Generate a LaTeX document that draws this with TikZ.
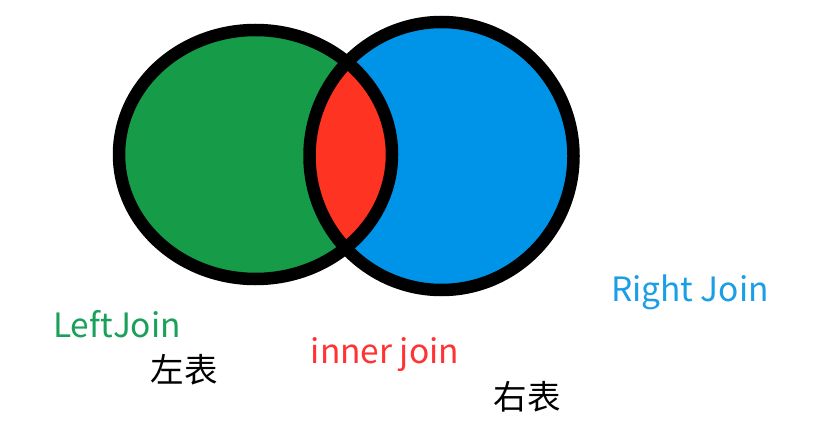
\documentclass[tikz,border=0pt]{standalone}
\usepackage{fontspec}
\setmainfont{Noto Sans CJK SC}
\definecolor{lgreen}{HTML}{169B48}
\definecolor{rblue}{HTML}{0094E8}
\definecolor{ired}{HTML}{FF3322}
\definecolor{tgreen}{HTML}{1AA05A}
\definecolor{tblue}{HTML}{1A9EE6}
\definecolor{tred}{HTML}{FF3333}
\tikzset{
  ring/.style={draw=black, line width=12.5pt},
  lbl/.style={inner sep=0pt, font=\fontsize{33.5}{36}\selectfont},
}
\begin{document}
\begin{tikzpicture}[x=1pt,y=-1pt]
\useasboundingbox (0,0) rectangle (816,441);
\fill[white] (0,0) rectangle (816,441);
\coordinate (lc) at (255.5,154.5);
\coordinate (rc) at (441.5,156);
\fill[lgreen] (lc) ellipse [x radius=136.5, y radius=124.5];
\fill[rblue] (rc) ellipse [x radius=132, y radius=134];
\begin{scope}
  \clip (lc) ellipse [x radius=136.5, y radius=124.5];
  \fill[ired] (rc) ellipse [x radius=132, y radius=134];
\end{scope}
\draw[ring] (lc) ellipse [x radius=136.5, y radius=124.5];
\draw[ring] (rc) ellipse [x radius=132, y radius=134];
\node[lbl, text=tgreen] (lj) at (117,324) {LeftJoin};
\node[lbl, text=black] (lt) at (184,370) {左表};
\node[lbl, text=tred] (ij) at (385,355) {inner join};
\node[lbl, text=black] (rt) at (527,397) {右表};
\node[lbl, text=tblue] (rj) at (690,292) {Right Join};
\end{tikzpicture}
\end{document}
